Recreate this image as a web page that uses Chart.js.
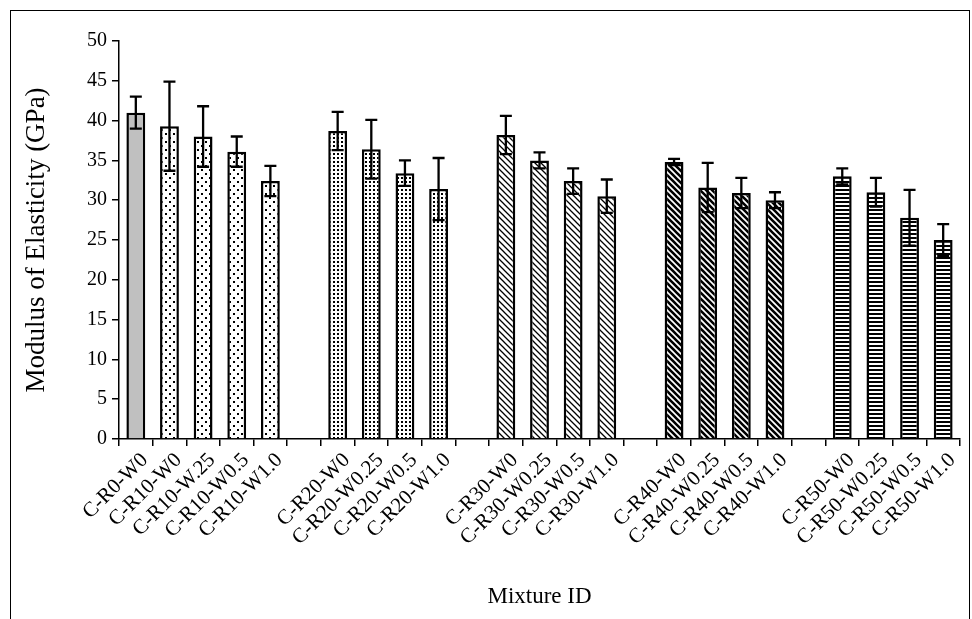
<!DOCTYPE html>
<html>
<head>
<meta charset="utf-8">
<script src="https://cdn.jsdelivr.net/npm/chart.js@4"></script>
<style>
  html, body { margin: 0; padding: 0; background: #fff; }
  #wrap { position: relative; width: 972px; height: 619px; overflow: hidden; }
  #frame { position: absolute; left: 10px; top: 10px; width: 958px; height: 700px; border: 1px solid #000; pointer-events: none; }
  canvas { position: absolute; left: 0; top: 0; }
</style>
</head>
<body>
<div id="wrap">
  <canvas id="chart" width="972" height="619"></canvas>
  <div id="frame"></div>
</div>
<script>
// Mixture IDs (empty labels are the gaps between groups)
const mixtures = [
    'C-R0-W0', 'C-R10-W0', 'C-R10-W.25', 'C-R10-W0.5', 'C-R10-W1.0', '',
    'C-R20-W0', 'C-R20-W0.25', 'C-R20-W0.5', 'C-R20-W1.0', '',
    'C-R30-W0', 'C-R30-W0.25', 'C-R30-W0.5', 'C-R30-W1.0', '',
    'C-R40-W0', 'C-R40-W0.25', 'C-R40-W0.5', 'C-R40-W1.0', '',
    'C-R50-W0', 'C-R50-W0.25', 'C-R50-W0.5', 'C-R50-W1.0'
];
// Modulus of elasticity (GPa)
const modulus = [
    41.0, 39.3, 38.0, 36.1, 32.4, null,
    38.7, 36.4, 33.4, 31.4, null,
    38.2, 35.0, 32.4, 30.5, null,
    34.8, 31.6, 30.9, 30.0, null,
    33.0, 31.0, 27.8, 25.0
];
// Error bars (+/-)
const deviation = [
    2.0, 5.6, 3.8, 1.9, 1.9, null,
    2.4, 3.7, 1.6, 3.9, null,
    2.4, 1.0, 1.6, 2.1, null,
    0.4, 3.1, 1.9, 1.0, null,
    1.0, 1.8, 3.5, 2.0
];
const yTicks = [0, 5, 10, 15, 20, 25, 30, 35, 40, 45, 50];

// pattern tiles
function makePattern(size, draw) {
    const c = document.createElement('canvas');
    c.width = size[0]; c.height = size[1];
    const g = c.getContext('2d');
    g.fillStyle = '#fff';
    g.fillRect(0, 0, c.width, c.height);
    g.fillStyle = '#000';
    g.strokeStyle = '#000';
    draw(g);
    return document.getElementById('chart').getContext('2d').createPattern(c, 'repeat');
}

const patterns = {
    'C-R0': '#c0c0c0',
    'C-R10': makePattern([8, 8], g => { g.fillRect(1, 1, 2, 2); g.fillRect(5, 5, 2, 2); }),
    'C-R20': makePattern([4, 4], g => { g.fillRect(1, 1, 2, 2); }),
    'C-R30': makePattern([6, 6], g => {
        g.lineWidth = 1.3;
        g.beginPath();
        g.moveTo(-1, -1); g.lineTo(7, 7);
        g.moveTo(-1, 5); g.lineTo(1, 7);
        g.moveTo(5, -1); g.lineTo(7, 1);
        g.stroke();
    }),
    'C-R40': makePattern([6, 6], g => {
        g.lineWidth = 2.6;
        g.beginPath();
        g.moveTo(-1, -1); g.lineTo(7, 7);
        g.moveTo(-1, 5); g.lineTo(1, 7);
        g.moveTo(5, -1); g.lineTo(7, 1);
        g.stroke();
    }),
    'C-R50': makePattern([4, 4], g => { g.fillRect(0, 1, 4, 2); })
};
const fills = mixtures.map(m => patterns[m.split('-W')[0]] || '#fff');

// error bars drawn through the scales
const errorBars = {
    id: 'errorBars',
    afterDatasetsDraw(chart) {
        const ctx = chart.ctx;
        const meta = chart.getDatasetMeta(0);
        const y = chart.scales.y;
        ctx.save();
        ctx.strokeStyle = '#000';
        ctx.lineWidth = 2.3;
        meta.data.forEach((bar, i) => {
            if (modulus[i] == null) return;
            const top = y.getPixelForValue(modulus[i] + deviation[i]);
            const bot = y.getPixelForValue(modulus[i] - deviation[i]);
            ctx.beginPath();
            ctx.moveTo(bar.x, top); ctx.lineTo(bar.x, bot);
            ctx.moveTo(bar.x - 6, top); ctx.lineTo(bar.x + 6, top);
            ctx.moveTo(bar.x - 6, bot); ctx.lineTo(bar.x + 6, bot);
            ctx.stroke();
        });
        ctx.restore();
    }
};

const serif = 'Liberation Serif, Times New Roman, serif';

new Chart(document.getElementById('chart'), {
    type: 'bar',
    data: {
        labels: mixtures,
        datasets: [{
            data: modulus,
            backgroundColor: fills,
            borderColor: '#000',
            borderWidth: 2.5,
            categoryPercentage: 1,
            barPercentage: 0.56
        }]
    },
    options: {
        responsive: false,
        animation: false,
        layout: { padding: { left: 20, right: 12, top: 41, bottom: 8 } },
        plugins: { legend: { display: false }, tooltip: { enabled: false } },
        scales: {
            x: {
                afterFit: s => { s.height = 172; },
                grid: { offset: true, drawOnChartArea: false, color: '#000', tickLength: 7, lineWidth: 1.5 },
                border: { color: '#000', width: 1.5 },
                ticks: {
                    color: '#000', autoSkip: false, minRotation: 45, maxRotation: 45,
                    font: { family: serif, size: 21 }, padding: 2, labelOffset: 9
                },
                title: {
                    display: true, text: 'Mixture ID', color: '#000',
                    font: { family: serif, size: 23 }, padding: { top: 0, bottom: 0 }
                }
            },
            y: {
                min: 0, max: 50,
                afterFit: s => { s.width = 99; },
                afterBuildTicks: s => { s.ticks = yTicks.map(v => ({ value: v })); },
                grid: { drawOnChartArea: false, color: '#000', tickLength: 7, lineWidth: 1.5 },
                border: { color: '#000', width: 1.5 },
                ticks: { color: '#000', font: { family: serif, size: 20 }, padding: 5 },
                title: {
                    display: true, text: 'Modulus of Elasticity (GPa)', color: '#000',
                    font: { family: serif, size: 27 }, padding: { top: 1, bottom: 0 }
                }
            }
        }
    },
    plugins: [errorBars]
});
</script>
</body>
</html>
